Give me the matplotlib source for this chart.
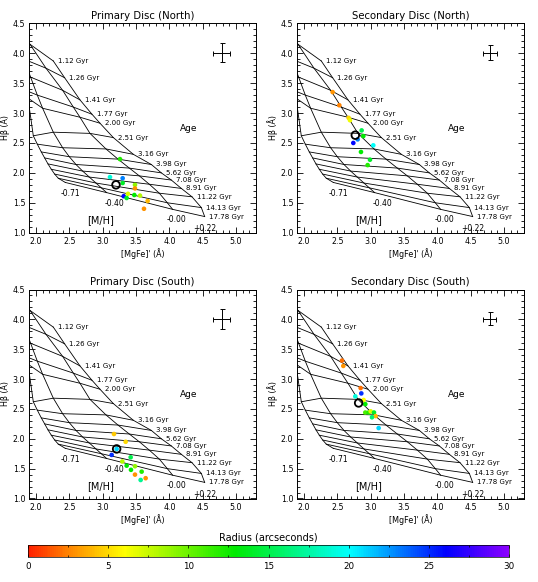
import numpy as np
import matplotlib
matplotlib.use("Agg")
import matplotlib.pyplot as plt
from matplotlib.colors import LinearSegmentedColormap
from matplotlib.ticker import MultipleLocator

# model grid: ages (Gyr) and metallicities [M/H]
ages = ['1.12', '1.26', '1.41', '1.77', '2.00', '2.51', '3.16', '3.98',
        '5.62', '7.08', '8.91', '11.22', '14.13', '17.78']
mh_labels = ['-0.71', '-0.40', '-0.00', '+0.22']

# [MgFe]' per metallicity (rows) and age (columns)
grid_mgfe = [
    [1.60, 1.65, 1.72, 1.80, 1.88, 1.96, 2.02, 2.08, 2.13, 2.18, 2.23, 2.28, 2.335, 2.44],
    [1.75, 1.82, 1.92, 2.02, 2.10, 2.26, 2.40, 2.50, 2.60, 2.70, 2.80, 2.90, 2.98, 3.06],
    [1.91, 2.15, 2.40, 2.56, 2.66, 2.81, 3.05, 3.23, 3.40, 3.55, 3.70, 3.85, 3.97, 4.05],
    [2.26, 2.43, 2.66, 2.84, 2.96, 3.16, 3.46, 3.73, 3.88, 4.03, 4.18, 4.34, 4.48, 4.53],
]
# H-beta per metallicity and age
grid_hbeta = [
    [4.10, 3.85, 3.62, 3.40, 3.25, 2.62, 2.48, 2.35, 2.25, 2.15, 2.06, 1.98, 1.91, 1.84],
    [4.30, 3.90, 3.60, 3.30, 3.08, 2.68, 2.42, 2.27, 2.14, 2.03, 1.93, 1.83, 1.75, 1.67],
    [4.15, 3.75, 3.38, 3.10, 2.93, 2.66, 2.40, 2.23, 2.08, 1.95, 1.81, 1.66, 1.50, 1.39],
    [3.87, 3.59, 3.22, 2.98, 2.83, 2.59, 2.31, 2.14, 2.00, 1.88, 1.74, 1.60, 1.42, 1.27],
]

titles = ['Primary Disc (North)', 'Secondary Disc (North)',
          'Primary Disc (South)', 'Secondary Disc (South)']

# measured line strengths, colour = radius (arcsec)
p1_mgfe = [3.26, 3.11, 3.30, 3.30, 3.485, 3.485, 3.38, 3.315, 3.36, 3.475, 3.56, 3.675, 3.62]
p1_hbeta = [2.23, 1.93, 1.91, 1.83, 1.80, 1.74, 1.65, 1.61, 1.58, 1.63, 1.62, 1.53, 1.40]
p1_radius = [12, 19, 23, 14, 9, 3, 7, 26, 14, 13, 8, 4, 3]

p2_mgfe = [2.43, 2.53, 2.67, 2.69, 2.865, 2.89, 2.805, 2.74, 3.04, 2.855, 2.99, 2.955]
p2_hbeta = [3.35, 3.13, 2.92, 2.88, 2.71, 2.615, 2.56, 2.50, 2.46, 2.35, 2.22, 2.13]
p2_radius = [3, 2.5, 5, 6.5, 15, 13, 23, 26, 20, 13, 14, 12]

p3_mgfe = [3.17, 3.345, 3.21, 3.135, 3.42, 3.295, 3.36, 3.485, 3.425, 3.585, 3.485, 3.645, 3.57]
p3_hbeta = [2.08, 1.95, 1.83, 1.73, 1.69, 1.62, 1.55, 1.54, 1.48, 1.45, 1.40, 1.34, 1.31]
p3_radius = [4.5, 5, 21, 25, 15, 8, 13, 9, 13, 12, 3, 3, 17]

p4_mgfe = [2.57, 2.59, 2.85, 2.86, 2.77, 2.895, 2.92, 2.92, 2.97, 3.00, 3.05, 3.075, 3.02, 3.12]
p4_hbeta = [3.31, 3.22, 2.85, 2.76, 2.71, 2.65, 2.58, 2.44, 2.44, 2.46, 2.44, 2.38, 2.36, 2.18]
p4_radius = [2, 3, 2, 25, 19, 6, 13, 11, 12, 7, 14, 4, 16, 21]

# central value, open circle
circ_mgfe = [3.20, 2.77, 3.21, 2.82]
circ_hbeta = [1.80, 2.63, 1.83, 2.60]

# typical error bar
err_x = [0.125, 0.105, 0.125, 0.10]
err_y = [0.165, 0.125, 0.165, 0.11]

panels = [
    (p1_mgfe, p1_hbeta, p1_radius),
    (p2_mgfe, p2_hbeta, p2_radius),
    (p3_mgfe, p3_hbeta, p3_radius),
    (p4_mgfe, p4_hbeta, p4_radius),
]

# IDL-like rainbow
rainbow = LinearSegmentedColormap.from_list('idl_rainbow', [
    (0.00, (1.0, 0.12, 0.0)),
    (0.08, (1.0, 0.5, 0.0)),
    (0.20, (1.0, 1.0, 0.0)),
    (0.43, (0.0, 0.92, 0.0)),
    (0.67, (0.0, 1.0, 1.0)),
    (0.87, (0.0, 0.0, 1.0)),
    (1.00, (0.55, 0.0, 1.0)),
])

W, H = 538, 582
fig = plt.figure(figsize=(W / 100, H / 100), dpi=100)

# axes boxes in pixels: left, top, right, bottom
boxes = [
    (29.3, 23.3, 256.0, 232.7),
    (297.3, 23.3, 524.0, 232.7),
    (29.3, 289.5, 256.0, 498.5),
    (297.3, 289.5, 524.0, 498.5),
]

mgfe = np.array(grid_mgfe)
hbeta = np.array(grid_hbeta)

for i, (l, t, r, b) in enumerate(boxes):
    ax = fig.add_axes([l / W, 1 - b / H, (r - l) / W, (b - t) / H])
    xs, ys, rad = panels[i]

    # age lines
    for j in range(len(ages)):
        ax.plot(mgfe[:, j], hbeta[:, j], color='black', lw=0.6)
        ax.text(mgfe[-1, j] + 0.07, hbeta[-1, j], ages[j] + ' Gyr',
                fontsize=5, ha='left', va='center')
    # metallicity lines
    offs = [(0.07, -0.18), (0.12, -0.19), (0.06, -0.17), (0.0, -0.20)]
    for k in range(len(mh_labels)):
        ax.plot(mgfe[k], hbeta[k], color='black', lw=0.6)
        ax.text(mgfe[k, -1] + offs[k][0], hbeta[k, -1] + offs[k][1], mh_labels[k],
                fontsize=5.5, ha='center', va='center')

    ax.text(4.29, 2.74, 'Age', fontsize=6.5, ha='center', va='center')
    ax.text(2.97, 1.21, '[M/H]', fontsize=7, ha='center', va='center')

    ax.scatter(xs, ys, c=rad, cmap=rainbow, vmin=0, vmax=30, s=11,
               edgecolors='none', zorder=3)
    ax.scatter([circ_mgfe[i]], [circ_hbeta[i]], s=30, facecolors='none',
               edgecolors='black', linewidths=1.3, zorder=4)

    ax.errorbar([4.785], [4.01], xerr=[err_x[i]], yerr=[err_y[i]], fmt='none',
                ecolor='black', elinewidth=0.7, capsize=1.8, capthick=0.7)

    ax.set_xlim(1.9, 5.3)
    ax.set_ylim(1.0, 4.5)
    ax.xaxis.set_major_locator(MultipleLocator(0.5))
    ax.xaxis.set_minor_locator(MultipleLocator(0.1))
    ax.yaxis.set_major_locator(MultipleLocator(0.5))
    ax.yaxis.set_minor_locator(MultipleLocator(0.1))
    ax.xaxis.set_major_formatter(plt.FormatStrFormatter('%.1f'))
    ax.yaxis.set_major_formatter(plt.FormatStrFormatter('%.1f'))
    ax.tick_params(which='both', direction='in', top=True, right=True,
                   labelsize=5.7, width=0.6, pad=3)
    ax.tick_params(which='major', length=4)
    ax.tick_params(which='minor', length=2)
    for sp in ax.spines.values():
        sp.set_linewidth(0.7)
    ax.set_xlabel("[MgFe]' (Å)", fontsize=5.8, labelpad=1.5)
    ax.set_ylabel('Hβ (Å)', fontsize=5.8, labelpad=2)
    ax.set_title(titles[i], fontsize=7.3, pad=3)

# colour bar
cax = fig.add_axes([27.7 / W, 1 - 556.7 / H, 481.6 / W, 11.7 / H])
sm = plt.cm.ScalarMappable(cmap=rainbow, norm=plt.Normalize(0, 30))
cb = fig.colorbar(sm, cax=cax, orientation='horizontal')
cb.set_ticks([0, 5, 10, 15, 20, 25, 30])
cb.ax.xaxis.set_minor_locator(MultipleLocator(2.5))
cb.ax.tick_params(which='both', direction='in', labelsize=6.3, width=0.5,
                  top=True, pad=4)
cb.ax.tick_params(which='major', length=2.5)
cb.ax.tick_params(which='minor', length=1.5)
cb.outline.set_linewidth(0.5)
cb.ax.set_title('Radius (arcseconds)', fontsize=7, pad=3)

fig.savefig('out.png', dpi=100)
